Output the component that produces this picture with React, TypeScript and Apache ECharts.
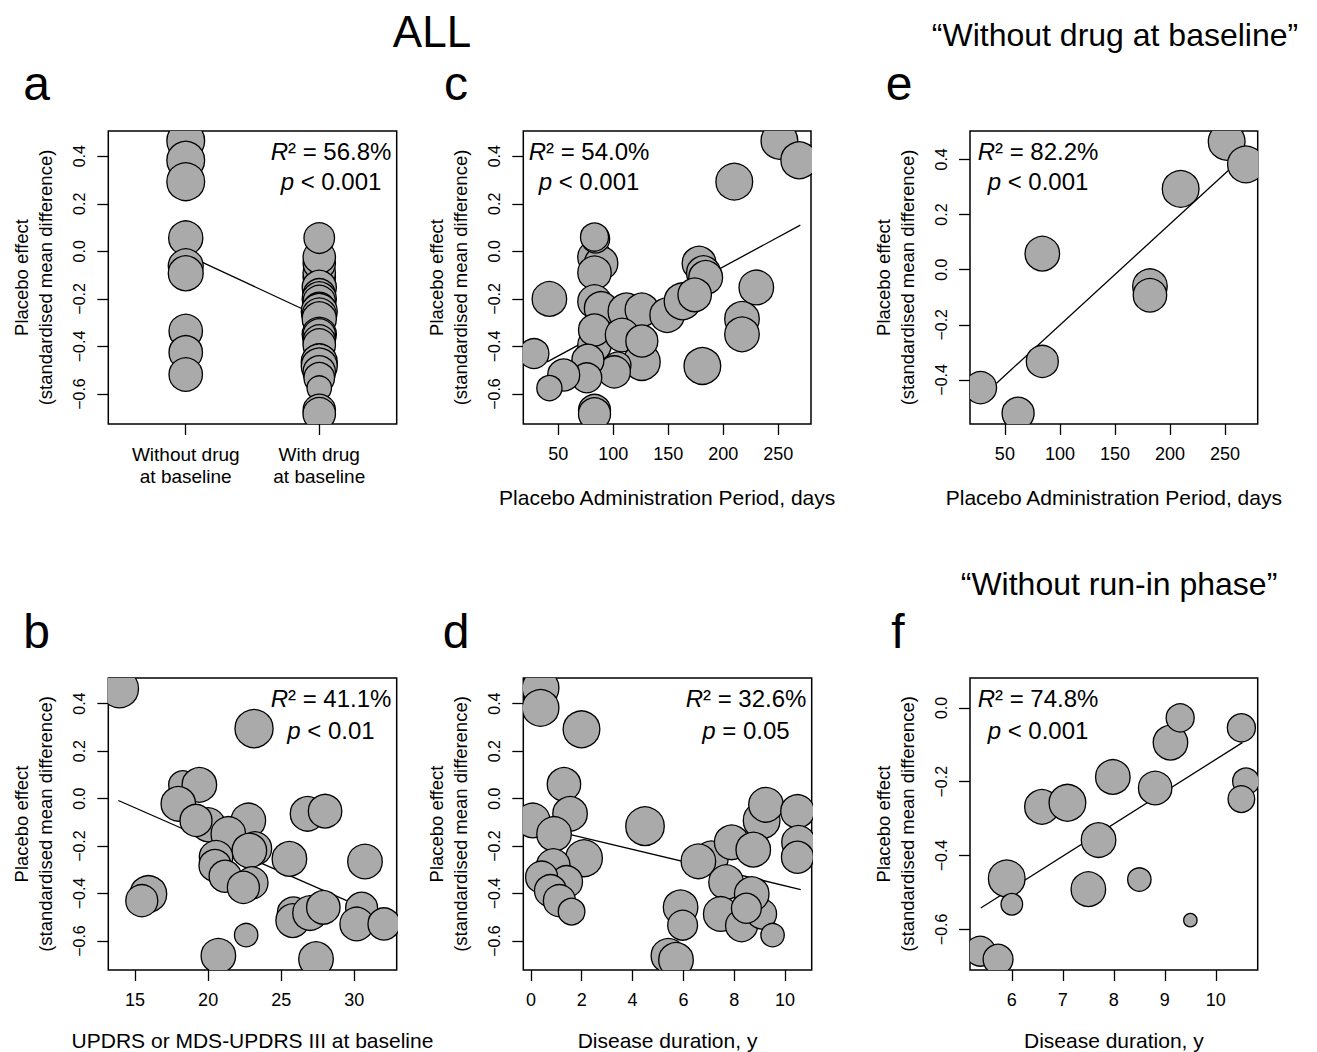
import React, { useEffect, useRef } from "react";
import * as echarts from "echarts";

const FONT = '"Liberation Sans", Arial, Helvetica, sans-serif';
const NARROW = '"Liberation Sans Narrow", "Liberation Sans", Arial, sans-serif';

// ---------- DATA ----------
// Panel a: group (1 = without drug at baseline, 2 = with drug at baseline)
const A_CATEGORIES = ["Without drug\nat baseline", "With drug\nat baseline"];
const A_GROUP = [1, 1, 1, 1, 1, 1, 1, 1, 1,
  2, 2, 2, 2, 2, 2, 2, 2, 2, 2, 2, 2, 2, 2, 2, 2, 2, 2, 2, 2, 2, 2, 2, 2, 2, 2, 2];
const A_EFFECT = [0.465, 0.383, 0.293, 0.056, -0.063, -0.092, -0.335, -0.425, -0.518,
  -0.11, -0.09, -0.05, -0.025, 0.056, -0.152, -0.183, -0.2, -0.211, -0.24, -0.246, -0.253,
  -0.268, -0.284, -0.349, -0.352, -0.377, -0.394, -0.458, -0.465, -0.479, -0.482, -0.507,
  -0.532, -0.575, -0.669, -0.683];
const A_WEIGHT = [1.05, 1.05, 1.05, 0.95, 0.97, 0.97, 0.93, 0.93, 0.93,
  0.9, 0.9, 0.9, 0.9, 0.85, 0.95, 0.9, 0.95, 0.9, 0.9, 0.9, 1.0,
  0.95, 0.95, 0.95, 0.9, 0.9, 0.9, 0.9, 1.0, 0.75, 1.0, 0.9,
  0.85, 0.68, 0.9, 0.9];
const A_FIT_X = [1, 2];
const A_FIT_Y = [-0.014, -0.275];

// Panel c: placebo administration period (days)
const C_DAYS = [251, 269, 210, 83, 89, 83, 84, 83, 178, 182, 184, 42, 83, 89, 112, 126, 149, 163,
  174, 230, 217, 217, 28, 83, 83, 108, 126, 126, 104, 101, 181, 77, 76, 55, 42, 83, 83];
const C_EFFECT = [0.465, 0.383, 0.293, -0.025, -0.05, -0.09, 0.052, 0.06, -0.05, -0.09, -0.11, -0.2,
  -0.211, -0.24, -0.253, -0.246, -0.268, -0.21, -0.183, -0.152, -0.284, -0.349, -0.43, -0.394,
  -0.331, -0.352, -0.465, -0.377, -0.479, -0.507, -0.482, -0.458, -0.532, -0.52, -0.575, -0.669, -0.683];
const C_WEIGHT = [1.02, 1.02, 1.02, 0.93, 0.93, 0.93, 0.78, 0.78, 0.94, 0.94, 0.94, 0.96,
  0.93, 0.93, 1.02, 0.93, 0.96, 1.02, 0.93, 0.96, 0.96, 0.96, 0.83, 0.93,
  0.89, 0.93, 1.02, 0.89, 0.74, 0.89, 1.02, 0.89, 0.83, 0.89, 0.7, 0.89, 0.89];
const C_FIT_X = [40, 270];
const C_FIT_Y = [-0.465, 0.11];

// Panel e: without drug at baseline
const E_DAYS = [251.5, 269, 209.7, 84, 181.8, 181.8, 84, 27.9, 62];
const E_EFFECT = [0.464, 0.382, 0.293, 0.058, -0.06, -0.093, -0.333, -0.428, -0.521];
const E_WEIGHT = [1.02, 1.02, 1.02, 0.96, 0.96, 0.93, 0.89, 0.89, 0.89];
const E_FIT_X = [42.4, 253];
const E_FIT_Y = [-0.412, 0.36];

// Panel b: UPDRS or MDS-UPDRS III at baseline
const B_UPDRS = [13.93, 23.14, 18.26, 19.4, 17.96, 20.0, 19.17, 26.8, 28.0, 22.75, 21.38, 23.2,
  22.82, 20.54, 25.56, 30.73, 20.47, 21.16, 23.0, 22.41, 15.91, 15.46, 25.83, 25.78, 26.97,
  27.88, 30.5, 30.16, 32.03, 22.6, 20.7, 27.38];
const B_EFFECT = [0.463, 0.295, 0.058, 0.058, -0.022, -0.11, -0.092, -0.064, -0.053, -0.092, -0.149, -0.21,
  -0.219, -0.247, -0.254, -0.265, -0.282, -0.327, -0.355, -0.374, -0.402, -0.43, -0.482, -0.514, -0.482,
  -0.458, -0.462, -0.528, -0.528, -0.575, -0.662, -0.676];
const B_WEIGHT = [1.06, 1.06, 0.78, 0.96, 0.96, 0.94, 0.89, 0.96, 0.93, 0.96, 0.96, 0.93,
  0.96, 0.93, 0.96, 0.96, 0.89, 0.89, 0.89, 0.89, 1.02, 0.89, 0.89, 0.93, 0.96,
  0.93, 0.89, 0.93, 0.89, 0.65, 0.96, 0.96];
const B_FIT_X = [13.86, 29.48];
const B_FIT_Y = [-0.008, -0.43];

// Panel d: disease duration (years)
const D_YEARS = [0.38, 0.38, 1.99, 1.3, 1.54, 0.07, 0.91, 2.09, 0.88, 1.4, 0.42, 0.77, 1.12, 1.6,
  4.49, 7.1, 6.59, 5.89, 5.97, 5.41, 5.71, 7.9, 9.08, 9.25, 8.75, 10.49, 10.53, 10.49, 7.68,
  7.47, 8.29, 9.08, 8.69, 8.48, 9.51];
const D_EFFECT = [0.466, 0.382, 0.292, 0.06, -0.064, -0.092, -0.149, -0.251, -0.282, -0.35, -0.331,
  -0.388, -0.43, -0.476, -0.116, -0.25, -0.264, -0.458, -0.533, -0.662, -0.679, -0.184, -0.092,
  -0.026, -0.215, -0.054, -0.184, -0.247, -0.352, -0.486, -0.535, -0.486, -0.402, -0.462, -0.575];
const D_WEIGHT = [1.02, 1.02, 1.02, 0.93, 0.96, 0.96, 0.96, 1.02, 0.93, 0.89, 0.89, 0.89, 0.89, 0.74,
  1.07, 0.94, 0.96, 0.96, 0.83, 0.96, 0.96, 0.96, 1.02, 0.96, 0.96, 0.93, 0.93, 0.89, 0.96,
  0.96, 0.89, 0.83, 0.96, 0.83, 0.65];
const D_FIT_X = [1.6, 10.62];
const D_FIT_Y = [-0.153, -0.383];

// Panel f: without run-in phase, disease duration (years)
const F_YEARS = [5.38, 5.73, 5.9, 6.0, 6.59, 7.09, 7.7, 7.5, 7.98, 8.5, 8.81, 9.11, 9.3, 9.5, 10.5, 10.59, 10.5];
const F_EFFECT = [-0.659, -0.681, -0.462, -0.532, -0.268, -0.257, -0.358, -0.491, -0.187, -0.465, -0.217,
  -0.094, -0.027, -0.575, -0.054, -0.199, -0.247];
const F_WEIGHT = [0.83, 0.83, 1.02, 0.6, 0.96, 1.02, 0.96, 0.96, 0.96, 0.65, 0.93, 0.96, 0.78, 0.37, 0.78, 0.74, 0.74];
const F_FIT_X = [5.39, 10.52];
const F_FIT_Y = [-0.542, -0.094];

// Statistics
const R2_TEXT = { a: "56.8%", b: "41.1%", c: "54.0%", d: "32.6%", e: "82.2%", f: "74.8%" };
const P_TEXT = { a: "< 0.001", b: "< 0.01", c: "< 0.001", d: "= 0.05", e: "< 0.001", f: "< 0.001" };

// Tick labels
const Y_TICKS_MAIN = [-0.6, -0.4, -0.2, 0, 0.2, 0.4];
const Y_TICKS_E = [-0.4, -0.2, 0, 0.2, 0.4];
const Y_TICKS_F = [-0.6, -0.4, -0.2, 0];
const X_TICKS_DAYS = [50, 100, 150, 200, 250];
const X_TICKS_UPDRS = [15, 20, 25, 30];
const X_TICKS_DUR = [0, 2, 4, 6, 8, 10];
const X_TICKS_DUR_F = [6, 7, 8, 9, 10];
const X_TICKS_GROUP = [1, 2];

// ---------- LAYOUT ----------
const R_UNIT = 18;
const TOP_ROW = 131;
const BOT_ROW = 678;
const ROW_H = 293;

type Panel = {
  key: string;
  left: number; top: number; width: number; height: number;
  xMin: number; xMax: number; yMin: number; yMax: number;
  xTicks: number[]; yTicks: number[];
  x: number[]; y: number[]; w: number[];
  fitX: number[]; fitY: number[];
  xTitle: string;
  annCenter: number;
  xFormatter: (v: number) => string;
  xFont: number;
};

const fmtY = (v: number) => (v < -1e-9 ? "\u2212" : "") + Math.abs(v).toFixed(1);
const fmtNum = (v: number) => String(v);

const PANELS: Panel[] = [
  {
    key: "a", left: 108.3, top: TOP_ROW, width: 288.4, height: ROW_H,
    xMin: 0.42, xMax: 2.58, yMin: -0.726, yMax: 0.506,
    xTicks: X_TICKS_GROUP, yTicks: Y_TICKS_MAIN,
    x: A_GROUP, y: A_EFFECT, w: A_WEIGHT, fitX: A_FIT_X, fitY: A_FIT_Y,
    xTitle: "", annCenter: 331,
    xFormatter: (v) => A_CATEGORIES[Math.round(v) - 1] || "", xFont: 19,
  },
  {
    key: "c", left: 523.3, top: TOP_ROW, width: 287.7, height: ROW_H,
    xMin: 18.3, xMax: 279.7, yMin: -0.726, yMax: 0.506,
    xTicks: X_TICKS_DAYS, yTicks: Y_TICKS_MAIN,
    x: C_DAYS, y: C_EFFECT, w: C_WEIGHT, fitX: C_FIT_X, fitY: C_FIT_Y,
    xTitle: "Placebo Administration Period, days", annCenter: 589,
    xFormatter: fmtNum, xFont: 18,
  },
  {
    key: "e", left: 970, top: TOP_ROW, width: 287.7, height: ROW_H,
    xMin: 18.3, xMax: 279.7, yMin: -0.56, yMax: 0.503,
    xTicks: X_TICKS_DAYS, yTicks: Y_TICKS_E,
    x: E_DAYS, y: E_EFFECT, w: E_WEIGHT, fitX: E_FIT_X, fitY: E_FIT_Y,
    xTitle: "Placebo Administration Period, days", annCenter: 1038,
    xFormatter: fmtNum, xFont: 18,
  },
  {
    key: "b", left: 108.3, top: BOT_ROW, width: 288.4, height: 292,
    xMin: 13.17, xMax: 32.9, yMin: -0.722, yMax: 0.508,
    xTicks: X_TICKS_UPDRS, yTicks: Y_TICKS_MAIN,
    x: B_UPDRS, y: B_EFFECT, w: B_WEIGHT, fitX: B_FIT_X, fitY: B_FIT_Y,
    xTitle: "UPDRS or MDS-UPDRS III at baseline", annCenter: 331,
    xFormatter: fmtNum, xFont: 18,
  },
  {
    key: "d", left: 523.3, top: BOT_ROW, width: 288.4, height: 292,
    xMin: -0.3, xMax: 11.05, yMin: -0.722, yMax: 0.508,
    xTicks: X_TICKS_DUR, yTicks: Y_TICKS_MAIN,
    x: D_YEARS, y: D_EFFECT, w: D_WEIGHT, fitX: D_FIT_X, fitY: D_FIT_Y,
    xTitle: "Disease duration, y", annCenter: 746,
    xFormatter: fmtNum, xFont: 18,
  },
  {
    key: "f", left: 970, top: BOT_ROW, width: 287.7, height: 292,
    xMin: 5.18, xMax: 10.82, yMin: -0.71, yMax: 0.081,
    xTicks: X_TICKS_DUR_F, yTicks: Y_TICKS_F,
    x: F_YEARS, y: F_EFFECT, w: F_WEIGHT, fitX: F_FIT_X, fitY: F_FIT_Y,
    xTitle: "Disease duration, y", annCenter: 1038,
    xFormatter: fmtNum, xFont: 18,
  },
];

const renderBubble = (_params: any, api: any) => {
  const c = api.coord([api.value(0), api.value(1)]);
  return {
    type: "circle",
    shape: { cx: c[0], cy: c[1], r: api.value(2) * R_UNIT },
    style: { fill: "#aaaaaa", stroke: "#000", lineWidth: 1.3 },
  };
};

function buildOption() {
  const grid: any[] = [];
  const xAxis: any[] = [];
  const yAxis: any[] = [];
  const series: any[] = [];
  const graphic: any[] = [];

  const txt = (text: string, x: number, y: number, size: number, extra: any = {}) => ({
    type: "text", x, y, ...extra,
    style: {
      text, fontSize: size, fontFamily: FONT, fill: "#000",
      align: "center", verticalAlign: "middle", ...(extra.style || {}),
    },
  });

  PANELS.forEach((p, i) => {
    const isTop = p.top === TOP_ROW;
    grid.push({
      left: p.left, top: p.top, width: p.width, height: p.height,
      show: true, borderColor: "#000", borderWidth: 1.5, backgroundColor: "transparent",
      containLabel: false,
    });
    xAxis.push({
      gridIndex: i, type: "value", min: p.xMin, max: p.xMax, position: "bottom",
      axisLine: { show: false, onZero: false }, splitLine: { show: false },
      axisTick: { show: true, length: 11, customValues: p.xTicks, lineStyle: { color: "#000", width: 1.3 } },
      axisLabel: {
        customValues: p.xTicks, margin: p.key === "a" ? 19 : 21, fontSize: p.xFont, color: "#000",
        fontFamily: FONT, formatter: p.xFormatter, lineHeight: p.key === "a" ? 22 : undefined,
      },
    });
    yAxis.push({
      gridIndex: i, type: "value", min: p.yMin, max: p.yMax, position: "left",
      axisLine: { show: false, onZero: false }, splitLine: { show: false },
      axisTick: { show: true, length: 11, customValues: p.yTicks, lineStyle: { color: "#000", width: 1.3 } },
      axisLabel: {
        customValues: p.yTicks, rotate: 90, margin: 21, fontSize: 16, color: "#000",
        fontFamily: FONT, formatter: fmtY,
      },
    });
    series.push({
      type: "line", xAxisIndex: i, yAxisIndex: i, silent: true, z: 1,
      data: p.fitX.map((x, k) => [x, p.fitY[k]]),
      symbol: "none", lineStyle: { color: "#000", width: 1.3 },
    });
    series.push({
      type: "custom", xAxisIndex: i, yAxisIndex: i, clip: true, z: 2, silent: true,
      dimensions: ["x", "y", "w"], encode: { x: 0, y: 1 },
      data: p.x.map((x, k) => [x, p.y[k], p.w[k]]),
      renderItem: renderBubble,
    });

    const cy = p.top + p.height / 2;
    graphic.push({
      type: "text", x: p.left - 87, y: cy, rotation: Math.PI / 2,
      style: {
        text: "{n|Placebo} effect", fontSize: 18.5, fontFamily: FONT, fill: "#000",
        align: "center", verticalAlign: "middle",
        rich: { n: { fontSize: 18.5, fontFamily: NARROW, fill: "#000" } },
      },
    });
    graphic.push(txt("(standardised mean difference)", p.left - 63, cy, 18.5, { rotation: Math.PI / 2 }));
    if (p.xTitle) {
      graphic.push(txt(p.xTitle, p.left + p.width / 2, isTop ? 497.5 : 1040, 21));
    }
    const r2y = isTop ? 151.7 : 698.4;
    const py = isTop ? 181.7 : 730.7;
    graphic.push({
      type: "text", x: p.annCenter, y: r2y,
      style: {
        text: "{i|R}\u00b2 = " + (R2_TEXT as any)[p.key], fontSize: 24, fontFamily: FONT, fill: "#000",
        align: "center", verticalAlign: "middle",
        rich: { i: { fontSize: 24, fontFamily: FONT, fontStyle: "italic", fill: "#000" } },
      },
    });
    graphic.push({
      type: "text", x: p.annCenter, y: py,
      style: {
        text: "{i|p} " + (P_TEXT as any)[p.key], fontSize: 24, fontFamily: FONT, fill: "#000",
        align: "center", verticalAlign: "middle",
        rich: { i: { fontSize: 24, fontFamily: FONT, fontStyle: "italic", fill: "#000" } },
      },
    });
  });

  // Panel letters and headings
  graphic.push(txt("ALL", 432, 31, 44));
  graphic.push(txt("\u201cWithout drug at baseline\u201d", 1115, 34.5, 32));
  graphic.push(txt("\u201cWithout run-in phase\u201d", 1119, 584, 32));
  const letters: [string, number, number][] = [
    ["a", 36.7, 83], ["c", 456, 83], ["e", 899, 83],
    ["b", 36.7, 631], ["d", 456, 631], ["f", 898, 631],
  ];
  letters.forEach(([l, x, y]) => graphic.push(txt(l, x, y, 48)));

  return {
    animation: false,
    backgroundColor: "#ffffff",
    textStyle: { fontFamily: FONT },
    grid, xAxis, yAxis, series, graphic,
  };
}

export default function App() {
  const ref = useRef<HTMLDivElement>(null);
  useEffect(() => {
    if (!ref.current) return;
    const chart = echarts.init(ref.current, undefined, { renderer: "svg" });
    chart.setOption(buildOption() as any);
    return () => chart.dispose();
  }, []);
  return (
    <div
      ref={ref}
      style={{ position: "fixed", left: 0, top: 0, width: 1317, height: 1052, background: "#fff" }}
    />
  );
}
